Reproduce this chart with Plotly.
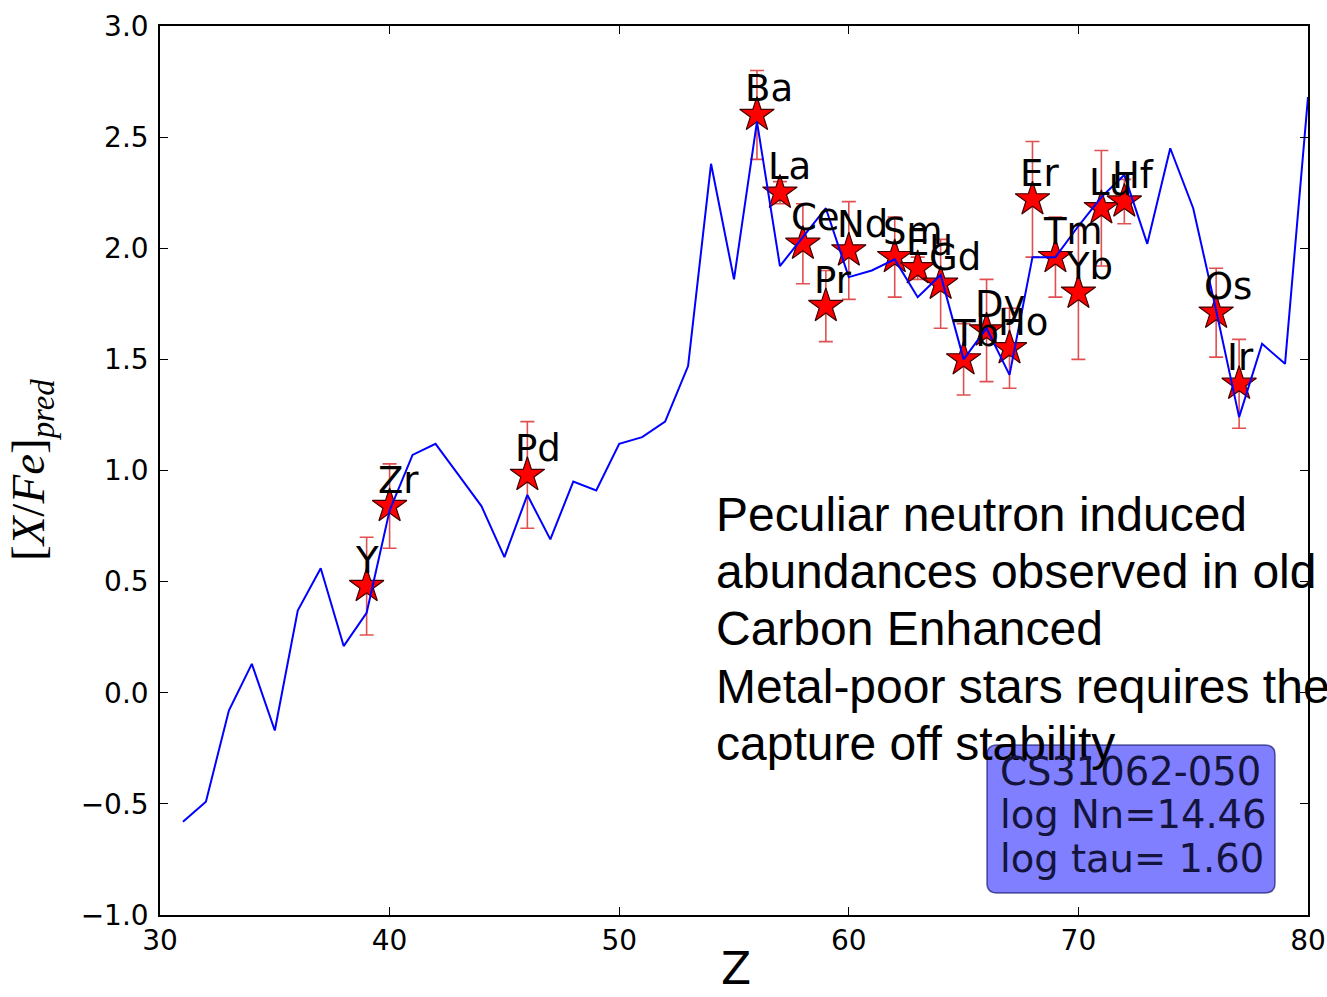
import plotly.graph_objects as go

# Model prediction: [X/Fe] for each atomic number Z
model_z = list(range(31, 81))
model_xfe = [
    -0.58, -0.49, -0.08, 0.13, -0.17, 0.37, 0.56, 0.21, 0.36, 0.82,
    1.07, 1.12, 0.98, 0.84, 0.61, 0.89, 0.69, 0.95, 0.91, 1.12,
    1.15, 1.22, 1.47, 2.38, 1.86, 2.57, 1.92, 2.05, 2.18, 1.87,
    1.90, 1.95, 1.78, 1.88, 1.50, 1.64, 1.43, 1.96, 1.96, 2.10,
    2.23, 2.33, 2.02, 2.45, 2.18, 1.72, 1.24, 1.57, 1.48, 2.68,
]

# Observed abundances with uncertainties
obs_elem = ["Y", "Zr", "Pd", "Ba", "La", "Ce", "Pr", "Nd", "Sm", "Eu", "Gd",
            "Tb", "Dy", "Ho", "Er", "Tm", "Yb", "Lu", "Hf", "Os", "Ir"]
obs_z = [39, 40, 46, 56, 57, 58, 59, 60, 62, 63, 64,
         65, 66, 67, 68, 69, 70, 71, 72, 76, 77]
obs_xfe = [0.48, 0.84, 0.98, 2.60, 2.25, 2.02, 1.74, 1.99, 1.96, 1.91, 1.84,
           1.50, 1.63, 1.55, 2.22, 1.96, 1.80, 2.18, 2.21, 1.71, 1.39]
obs_err = [0.22, 0.19, 0.24, 0.20, 0.05, 0.18, 0.16, 0.22, 0.18, 0.05, 0.20,
           0.16, 0.23, 0.18, 0.26, 0.18, 0.30, 0.26, 0.10, 0.20, 0.20]

star_name = "CS31062-050"
log_nn = 14.46
log_tau = 1.60
note_lines = [
    "Peculiar neutron induced",
    "abundances observed in old",
    "Carbon Enhanced",
    "Metal-poor stars requires the",
    "capture off stability",
]

W, H = 1327, 997
L, R, T, B = 160, 1308, 26, 915


def px(xp):
    return (xp - L) / (R - L)


def py(yp):
    return (B - yp) / (B - T)


fig = go.Figure()

fig.add_trace(go.Scatter(
    x=obs_z, y=obs_xfe, mode="markers",
    error_y=dict(type="data", array=obs_err, visible=True,
                 color="#e05050", thickness=1.6, width=7),
    marker=dict(symbol="star", size=26, color="#ff0000",
                line=dict(color="#400000", width=1.2)),
    showlegend=False, cliponaxis=False,
))

fig.add_trace(go.Scatter(
    x=model_z, y=model_xfe, mode="lines",
    line=dict(color="#0000ff", width=2),
    showlegend=False,
))

annotations = []
for name, z, v in zip(obs_elem, obs_z, obs_xfe):
    annotations.append(dict(
        x=z, y=v, xref="x", yref="y", text=name, showarrow=False,
        xanchor="left", yanchor="middle", xshift=-14, yshift=26,
        font=dict(family="DejaVu Sans", size=37, color="black"),
    ))

# Explanatory note
for i, line in enumerate(note_lines):
    base = 531 + 57.3 * i
    annotations.append(dict(
        x=px(714), y=py(base - 0.3465 * 48), xref="paper", yref="paper",
        text=line, showarrow=False, xanchor="left", yanchor="middle",
        font=dict(family="Liberation Sans", size=48, color="black"),
    ))

# Star parameter box (rounded rectangle, pixel corners)
box_x0, box_x1 = 987, 1275
box_y0, box_y1 = 745, 893
rx, ry = 10, 10
box_path = (
    f"M{box_x0 + rx},{box_y0} L{box_x1 - rx},{box_y0} "
    f"Q{box_x1},{box_y0} {box_x1},{box_y0 + ry} "
    f"L{box_x1},{box_y1 - ry} Q{box_x1},{box_y1} {box_x1 - rx},{box_y1} "
    f"L{box_x0 + rx},{box_y1} Q{box_x0},{box_y1} {box_x0},{box_y1 - ry} "
    f"L{box_x0},{box_y0 + ry} Q{box_x0},{box_y0} {box_x0 + rx},{box_y0} Z"
)


def to_path(p):
    out = []
    for tok in p.split(" "):
        head = tok[0] if tok[0].isalpha() else ""
        body = tok[1:] if head else tok
        if body:
            a, b = body.split(",")
            out.append(f"{head}{px(float(a)):.5f},{py(float(b)):.5f}")
        else:
            out.append(head)
    return " ".join(out)


shapes = [dict(
    type="path", xref="paper", yref="paper", path=to_path(box_path),
    fillcolor="rgba(0,0,255,0.5)", line=dict(color="rgba(0,0,90,0.6)", width=1.5),
    layer="above",
)]

box_lines = [star_name, f"log Nn={log_nn:.2f}", f"log tau= {log_tau:.2f}"]
for i, line in enumerate(box_lines):
    base = 785 + 43.3 * i
    annotations.append(dict(
        x=px(998), y=py(base - 0.346 * 38.5), xref="paper", yref="paper",
        text=line, showarrow=False, xanchor="left", yanchor="middle",
        font=dict(family="DejaVu Sans", size=38.5, color="#14143c"),
    ))

# Axis titles
annotations.append(dict(
    x=px(31), y=py(470), xref="paper", yref="paper",
    text="[<i>X</i>/<i>Fe</i>]<sub><i>pred</i></sub>", showarrow=False,
    textangle=-90, xanchor="center", yanchor="middle",
    font=dict(family="Liberation Serif", size=47, color="black"),
))
annotations.append(dict(
    x=px(736), y=py(996), xref="paper", yref="paper",
    text="Z", showarrow=False, xanchor="center", yanchor="bottom",
    font=dict(family="DejaVu Sans", size=44, color="black"),
))

axis_common = dict(
    showgrid=False, zeroline=False, showline=True, linecolor="black",
    linewidth=1.5, mirror="ticks", ticks="inside", ticklen=8,
    tickcolor="black", tickwidth=1, automargin=False,
    tickfont=dict(family="DejaVu Sans", size=28, color="black"),
)

fig.update_layout(
    width=W, height=H,
    margin=dict(l=L, r=W - R, t=T, b=H - B, autoexpand=False),
    paper_bgcolor="white", plot_bgcolor="white",
    xaxis=dict(range=[30, 80], dtick=10, tick0=30, **axis_common),
    yaxis=dict(range=[-1, 3], dtick=0.5, tick0=-1, tickformat=".1f",
               ticklabelstandoff=4, **axis_common),
    annotations=annotations, shapes=shapes,
)

fig.write_html("out.html")
